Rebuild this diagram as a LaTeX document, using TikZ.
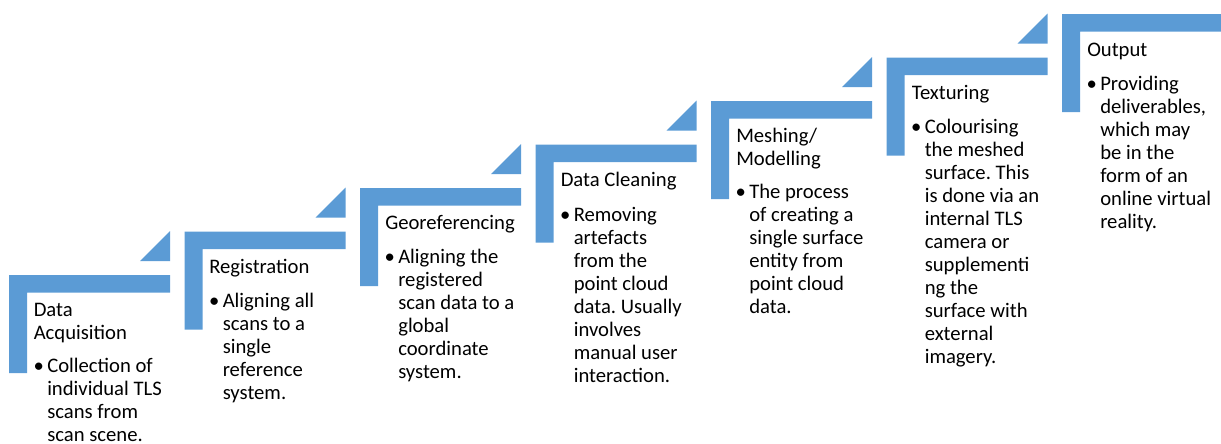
\documentclass[tikz,border=0pt]{standalone}
\usepackage{fontspec}
\setmainfont{Carlito}
\frenchspacing
\definecolor{stepblue}{HTML}{5B9BD5}
\newcommand\blt{\llap{\textbullet\hspace{2.5pt}}}
\newcommand\lines[1]{\begin{tabular}[t]{@{}l@{}}#1\end{tabular}}
\tikzset{
  stair/.pic={
    \fill[stepblue] (0,0) -- (161,0) -- (161,17.5) -- (18,17.5) -- (18,98) -- (0,98) -- cycle;
  },
  riser/.pic={
    \fill[stepblue] (131,-14) -- (161,-14) -- (161,-44) -- cycle;
  },
  txt/.style={inner sep=0pt, anchor=base west, font=\fontsize{15.5}{17.25}\selectfont},
  steptitle/.style={txt},
  stepbody/.style={txt}
}
\begin{document}
\begin{tikzpicture}[x=0.75pt,y=-0.75pt]
\useasboundingbox (0,0) rectangle (1221,443);
% step frames: each L-shaped tread with a small riser triangle leading to the next
\foreach \i in {0,...,6} {
  \pic at ({9+175.5*\i},{275-43.5*\i}) {stair};
}
\foreach \i in {0,...,5} {
  \pic at ({9+175.5*\i},{275-43.5*\i}) {riser};
}
% 1
\node[steptitle] (t1) at (33.5,316.5) {\lines{Data\\Acquisition}};
\node[stepbody] (b1) at (47,372) {\lines{\blt Collection of\\individual TLS\\scans from\\scan scene.}};
% 2
\node[steptitle] (t2) at (209,273) {\lines{Registration}};
\node[stepbody] (b2) at (222.5,307) {\lines{\blt Aligning all\\scans to a\\single\\reference\\system.}};
% 3
\node[steptitle] (t3) at (385,229.5) {\lines{Georeferencing}};
\node[stepbody] (b3) at (398,263.5) {\lines{\blt Aligning the\\registered\\scan data to a\\global\\coordinate\\system.}};
% 4
\node[steptitle] (t4) at (560.5,186.5) {\lines{Data Cleaning}};
\node[stepbody] (b4) at (573.5,221) {\lines{\blt Removing\\artefacts\\from the\\point cloud\\data. Usually\\involves\\manual user\\interaction.}};
% 5
\node[steptitle] (t5) at (736,142.5) {\lines{Meshing/\\Modelling}};
\node[stepbody] (b5) at (749,198) {\lines{\blt The process\\of creating a\\single surface\\entity from\\point cloud\\data.}};
% 6
\node[steptitle] (t6) at (911.5,99.5) {\lines{Texturing}};
\node[stepbody] (b6) at (924.5,133.5) {\lines{\blt Colourising\\the meshed\\surface. This\\is done via an\\internal TLS\\camera or\\supplementi\\ng the\\surface with\\external\\imagery.}};
% 7
\node[steptitle] (t7) at (1087,56.5) {\lines{Output}};
\node[stepbody] (b7) at (1100,90) {\lines{\blt Providing\\deliverables,\\which may\\be in the\\form of an\\online virtual\\reality.}};
\end{tikzpicture}
\end{document}
